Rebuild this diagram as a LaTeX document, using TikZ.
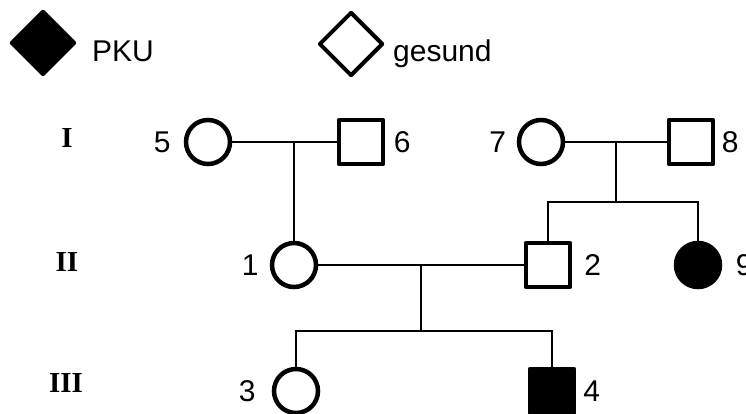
\documentclass[tikz,border=0pt]{standalone}
\usepackage{fontspec}
\setmainfont{Liberation Sans}
\newfontfamily\gennumfont{Liberation Serif}
\usetikzlibrary{calc}
\usetikzlibrary{positioning}
\usetikzlibrary{shapes.geometric}

\tikzset{
  female/.style={circle, draw, line width=4.5pt, minimum size=44pt, inner sep=0pt},
  male/.style={rectangle, draw, line width=4.5pt, minimum size=44pt, inner sep=0pt, line join=round},
  sick/.style={fill=black},
  legend/.style={diamond, draw, line width=4pt, line join=round, minimum width=64pt, minimum height=64pt, inner sep=0pt},
  num/.style={inner sep=0pt, font=\fontsize{30}{36}\selectfont},
  gen/.style={inner sep=0pt, font=\gennumfont\bfseries\fontsize{29}{34}\selectfont},
  line/.style={line width=2.5pt}
}

\begin{document}
\begin{tikzpicture}[x=1pt, y=-1pt]
    \useasboundingbox (0,0) rectangle (746,414);

    % Legend
    \node[legend, fill=black] (pku) at (43,43) {};
    \node[num, anchor=base west] (pkutext) at (92,62) {PKU};
    \node[legend] (healthy) at (351,44) {};
    \node[num, anchor=base west] (healthytext) at (393,62) {gesund};

    % Generation labels
    \node[gen] (genI) at (67,138) {I};
    \node[gen] (genII) at (67,262) {II};
    \node[gen] (genIII) at (66,383) {III};

    % Generation I
    \node[female] (c5) at (208,142) {};
    \node[male] (s6) at (361,142) {};
    \node[female] (c7) at (541,142) {};
    \node[male] (s8) at (691,142) {};

    % Generation II
    \node[female] (c1) at (294,265) {};
    \node[male] (s2) at (548,265) {};
    \node[female, sick] (c9) at (698,265) {};

    % Generation III
    \node[female] (c3) at (296,391) {};
    \node[male, sick] (s4) at (552,391) {};

    % Numbers
    \node[num, left=13pt of c5] (n5) {5};
    \node[num, right=8.5pt of s6] (n6) {6};
    \node[num, left=10.5pt of c7] (n7) {7};
    \node[num, right=6.5pt of s8] (n8) {8};
    \node[num, left=11pt of c1] (n1) {1};
    \node[num, right=12pt of s2] (n2) {2};
    \node[num, right=13.5pt of c9] (n9) {9};
    \node[num, left=16pt of c3] (n3) {3};
    \node[num, right=7pt of s4] (n4) {4};

    % Marriage lines
    \draw[line] (c5) -- (s6);
    \draw[line] (c7) -- (s8);
    \draw[line] (c1) -- (s2);

    % Descent 5-6
    \coordinate (m56) at (c1 |- c5);
    \draw[line] (m56) -- (c1.north);

    % Descent 7-8
    \coordinate (m78) at ($(c7)!0.5!(s8)$);
    \coordinate (k78) at ($(m78)+(0,60)$);
    \draw[line] (m78) -- (k78);
    \draw[line] (s2.north) -- (s2.north |- k78) -- (c9.north |- k78) -- (c9.north);

    % Descent 1-2
    \coordinate (m12) at ($(c1)!0.5!(s2)$);
    \coordinate (k12) at ($(m12)+(0,66)$);
    \draw[line] (m12) -- (k12);
    \draw[line] (c3.north) -- (c3.north |- k12) -- (s4.north |- k12) -- (s4.north);
\end{tikzpicture}
\end{document}
